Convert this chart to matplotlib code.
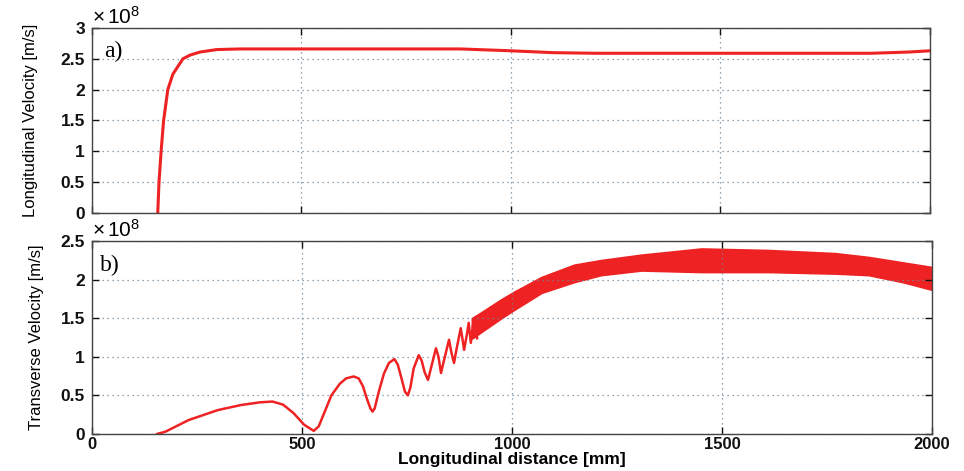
import numpy as np
import matplotlib
matplotlib.use("Agg")
import matplotlib.pyplot as plt

plt.rcParams.update({"font.family": ["Liberation Sans", "DejaVu Sans"], "font.size": 11,
                     "mathtext.fontset": "custom", "mathtext.rm": "Liberation Sans",
                     "mathtext.it": "Liberation Sans", "mathtext.bf": "Liberation Sans:bold"})

RED = "#ee2222"
GRID = "#6f8798"

# a) longitudinal velocity, values in units of 1e8 m/s
lon_x = [157, 160, 165, 171, 181, 193, 217, 234, 258, 298, 353, 500, 880, 1000, 1100,
         1200, 1860, 1950, 2000]
lon_v = [0.0, 0.5, 1.0, 1.5, 2.0, 2.25, 2.5, 2.56, 2.61, 2.65, 2.66, 2.66, 2.66, 2.63,
         2.60, 2.59, 2.59, 2.61, 2.63]

# b) transverse velocity, oscillating part (units of 1e8 m/s)
tr_x = [155, 175, 230, 300, 355, 400, 430, 455, 480, 505, 528, 540, 555, 570, 590, 605,
        623, 635, 645, 655, 663, 668, 673, 683, 695, 707, 720, 728, 737, 745, 752, 758,
        766, 778, 785, 792, 800, 807, 819, 825, 831, 838, 850, 856, 862, 868, 878, 883,
        886, 893, 897, 902, 907, 910, 917]
tr_v = [0.0, 0.03, 0.18, 0.31, 0.375, 0.41, 0.42, 0.38, 0.27, 0.12, 0.04, 0.1, 0.3,
        0.5, 0.65, 0.72, 0.745, 0.72, 0.62, 0.45, 0.33, 0.29, 0.33, 0.55, 0.78, 0.92,
        0.97, 0.9, 0.72, 0.55, 0.5, 0.6, 0.85, 1.02, 0.95, 0.8, 0.70, 0.85, 1.11, 1.0,
        0.79, 0.95, 1.22, 1.05, 0.92, 1.1, 1.37, 1.2, 1.09, 1.3, 1.44, 1.18, 1.4, 1.50,
        1.24]

# b) dense oscillation band: upper / lower envelope
band_x = [905, 926, 974, 1005, 1070, 1148, 1212, 1308, 1451, 1611, 1769, 1849, 1930, 2000]
band_hi = [1.50, 1.57, 1.74, 1.84, 2.03, 2.19, 2.25, 2.32, 2.40, 2.38, 2.34, 2.29, 2.22, 2.16]
band_lo = [1.24, 1.32, 1.50, 1.61, 1.83, 1.97, 2.06, 2.12, 2.10, 2.10, 2.08, 2.06, 1.97, 1.87]


def style(ax, ymax, yticks):
    ax.set_xlim(0, 2000)
    ax.set_ylim(0, ymax)
    ax.set_xticks([0, 500, 1000, 1500, 2000])
    ax.set_yticks(yticks)
    ax.set_yticklabels([f"{t:g}" for t in yticks])
    ax.grid(True, linestyle=(0, (1, 3)), color=GRID, linewidth=0.9)
    ax.tick_params(direction="in", length=5, width=1, top=True, right=True,
                   labelsize=12.5, colors="#111111", pad=5)
    ax.tick_params(axis="x", pad=2, labelsize=12)
    for lab in ax.get_xticklabels() + ax.get_yticklabels():
        lab.set_fontweight("bold")
    for s in ax.spines.values():
        s.set_color("#444444")
        s.set_linewidth(1)
    ax.text(0.0, 1.0, r"$\times\,10^{8}$", transform=ax.transAxes,
            fontsize=15, ha="left", va="bottom")


fig = plt.figure(figsize=(9.64, 4.71), dpi=100)
ax1 = fig.add_axes([0.0954, 0.5478, 0.8693, 0.3928])
ax2 = fig.add_axes([0.0954, 0.0786, 0.8714, 0.4098])

ax1.plot(lon_x, lon_v, color=RED, lw=2.2)
style(ax1, 3, [0, 0.5, 1, 1.5, 2, 2.5, 3])
ax1.set_xticklabels([])
ax1.set_ylabel("Longitudinal Velocity [m/s]", fontsize=12, labelpad=16)
ax1.text(0.015, 0.93, "a)", transform=ax1.transAxes, fontsize=17,
         family="Liberation Serif", ha="left", va="top")

ax2.plot(tr_x, tr_v, color=RED, lw=1.8)
ax2.fill_between(band_x, band_lo, band_hi, color=RED, lw=1.5, edgecolor=RED)
style(ax2, 2.5, [0, 0.5, 1, 1.5, 2, 2.5])
ax2.set_ylabel("Transverse Velocity [m/s]", fontsize=12, labelpad=12)
ax2.set_xlabel("Longitudinal distance [mm]", fontsize=12.5, fontweight="bold", va="top")
ax2.xaxis.set_label_coords(0.5, -0.092)
ax2.text(0.01, 0.93, "b)", transform=ax2.transAxes, fontsize=17,
         family="Liberation Serif", ha="left", va="top")

fig.savefig("out.png", dpi=100)
